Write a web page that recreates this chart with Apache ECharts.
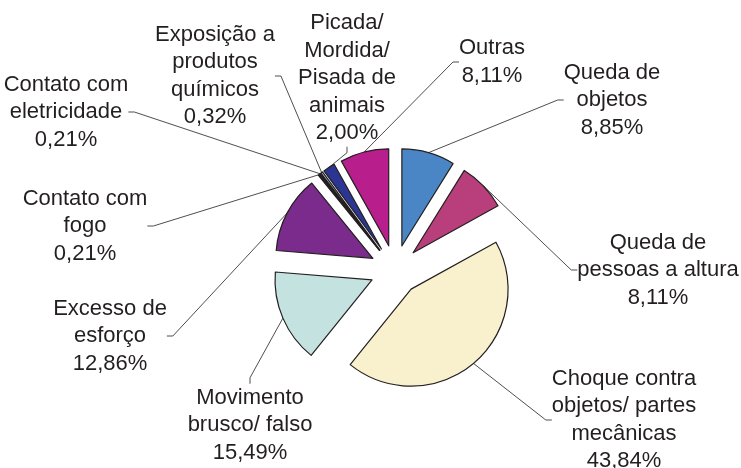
<!DOCTYPE html>
<html>
<head>
<meta charset="utf-8">
<script src="https://cdn.jsdelivr.net/npm/echarts@6/dist/echarts.min.js"></script>
<style>html,body{margin:0;padding:0;background:#fff}#c{width:741px;height:468px}</style>
</head>
<body>
<div id="c"></div>
<script>
var categories = [
  'Queda de\nobjetos',
  'Queda de\npessoas a altura',
  'Choque contra\nobjetos/ partes\nmecânicas',
  'Movimento\nbrusco/ falso',
  'Excesso de\nesforço',
  'Contato com\nfogo',
  'Contato com\neletricidade',
  'Exposição a\nprodutos\nquímicos',
  'Picada/\nMordida/\nPisada de\nanimais',
  'Outras'
];
var values = [8.85, 8.11, 43.84, 15.49, 12.86, 0.21, 0.21, 0.32, 2.00, 8.11];
var colors = ['#4a86c6', '#b83f7b', '#f9f1cd', '#c4e3e0', '#7a2b8b', '#7a2a2a', '#a93246', '#a9c2ea', '#2c3591', '#b91f8c'];
// label block centres (layout only)
var labelPos = [[612, 100], [658, 270], [624, 420], [250, 425], [110, 336], [85, 226], [66, 112], [215, 76], [347, 78], [492, 62]];

var CX = 395, CY = 270, R = 97, EXPLODE = 25;
var total = values.reduce(function (a, b) { return a + b; }, 0);

var chart = echarts.init(document.getElementById('c'), null, {renderer: 'canvas'});
var series = [];
var acc = 0;
values.forEach(function (v, i) {
  var mid = (acc + v / 2) / total * 2 * Math.PI;
  acc += v;
  var cx = CX + EXPLODE * Math.sin(mid);
  var cy = CY - EXPLODE * Math.cos(mid);
  series.push({
    type: 'pie',
    center: [cx, cy],
    radius: R,
    startAngle: 90,
    clockwise: true,
    avoidLabelOverlap: false,
    minAngle: 0,
    silent: true,
    emphasis: {disabled: true},
    data: categories.map(function (n, j) {
      var own = j === i;
      return {
        name: n,
        value: values[j],
        itemStyle: own ? {color: colors[j], borderColor: '#231f20', borderWidth: 1.2}
                       : {color: 'rgba(0,0,0,0)', borderWidth: 0},
        label: {show: own},
        labelLine: {show: own}
      };
    }),
    label: {
      position: 'outside',
      fontFamily: 'Liberation Sans, Arial, sans-serif',
      fontSize: 22,
      lineHeight: 27.5,
      color: '#231f20',
      align: 'center',
      formatter: function (p) {
        return p.name + '\n' + p.value.toFixed(2).replace('.', ',') + '%';
      }
    },
    labelLine: {length: 10, length2: 6, lineStyle: {color: '#231f20', width: 0.8}},
    labelLayout: function (p) {
      var pos = labelPos[p.dataIndex];
      return {x: pos[0], y: pos[1], align: 'center', verticalAlign: 'middle'};
    }
  });
});
chart.setOption({animation: false, backgroundColor: '#fff', series: series});
</script>
</body>
</html>
